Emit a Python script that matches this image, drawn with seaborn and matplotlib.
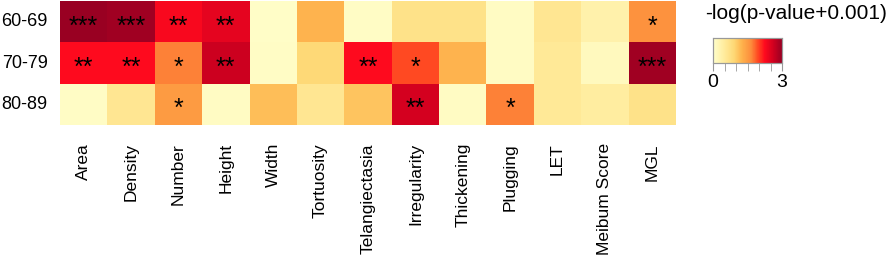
import numpy as np
import pandas as pd
import matplotlib
matplotlib.use("Agg")
import matplotlib.pyplot as plt
import seaborn as sns
from matplotlib.colors import LinearSegmentedColormap
from matplotlib.ticker import MultipleLocator

age_groups = ["60-69", "70-79", "80-89"]
features = ["Area", "Density", "Number", "Height", "Width", "Tortuosity",
            "Telangiectasia", "Irregularity", "Thickening", "Plugging", "LET",
            "Meibum Score", "MGL"]

vals_60_69 = [3.0, 2.95, 2.3, 2.45, 0.05, 1.25, 0.08, 0.7, 0.7, 0.1, 0.6, 0.35, 1.6]
vals_70_79 = [2.25, 2.25, 1.7, 2.65, 0.08, 0.9, 2.25, 1.95, 1.25, 0.1, 0.55, 0.15, 2.95]
vals_80_89 = [0.08, 0.6, 1.5, 0.1, 1.15, 0.6, 1.1, 2.6, 0.1, 1.7, 0.55, 0.45, 0.7]

stars_60_69 = ["***", "***", "**", "**", "", "", "", "", "", "", "", "", "*"]
stars_70_79 = ["**", "**", "*", "**", "", "", "**", "*", "", "", "", "", "***"]
stars_80_89 = ["", "", "*", "", "", "", "", "**", "", "*", "", "", ""]

cbar_title = "-log(p-value+0.001)"

data = pd.DataFrame([vals_60_69, vals_70_79, vals_80_89], index=age_groups, columns=features)
annot = np.array([stars_60_69, stars_70_79, stars_80_89])

cmap = LinearSegmentedColormap.from_list("heat", [
    (0.0, "#FFFFCC"), (0.15, "#FFEDA0"), (0.3, "#FED976"), (0.42, "#FEB24C"),
    (0.55, "#FD8D3C"), (0.65, "#FF4A22"), (0.75, "#FF0A1E"), (0.87, "#D3001F"),
    (1.0, "#990022")])

plt.rcParams['font.family'] = ['Liberation Sans', 'DejaVu Sans']

fig = plt.figure(figsize=(8.86, 2.59), dpi=100)
W, H = 886, 259
ax = fig.add_axes([60 / W, 1 - 125 / H, 616 / W, 124 / H])
cax = fig.add_axes([713 / W, 1 - 63 / H, 69 / W, 25 / H])

sns.heatmap(data, ax=ax, cmap=cmap, vmin=0, vmax=3, annot=annot, fmt="",
            annot_kws={"fontsize": 18, "color": "black"},
            cbar_ax=cax, cbar_kws={"orientation": "horizontal"})

for t in ax.texts:
    x, y = t.get_position()
    t.set_position((x, y + 0.12))

ax.tick_params(axis='both', length=0, labelsize=12.5)
ax.tick_params(axis='x', pad=13)
ax.tick_params(axis='y', pad=9, labelsize=13)
ax.set_xticklabels(features, rotation=90, ha='center', va='top')
ax.set_yticklabels(age_groups, rotation=0)
ax.set_xlabel("")
ax.set_ylabel("")

cax.set_xticks([0, 3])
cax.xaxis.set_minor_locator(MultipleLocator(0.5))
cax.tick_params(axis='x', which='both', length=6, color='#999999', labelsize=14, pad=2)
cax.tick_params(axis='x', which='minor', length=6)
for s in cax.spines.values():
    s.set_visible(True)
    s.set_color('#999999')
    s.set_linewidth(0.8)

fig.text(705 / W, 1 - 4 / H, cbar_title, ha='left', va='top', fontsize=15)

fig.savefig("out.png", dpi=100)
